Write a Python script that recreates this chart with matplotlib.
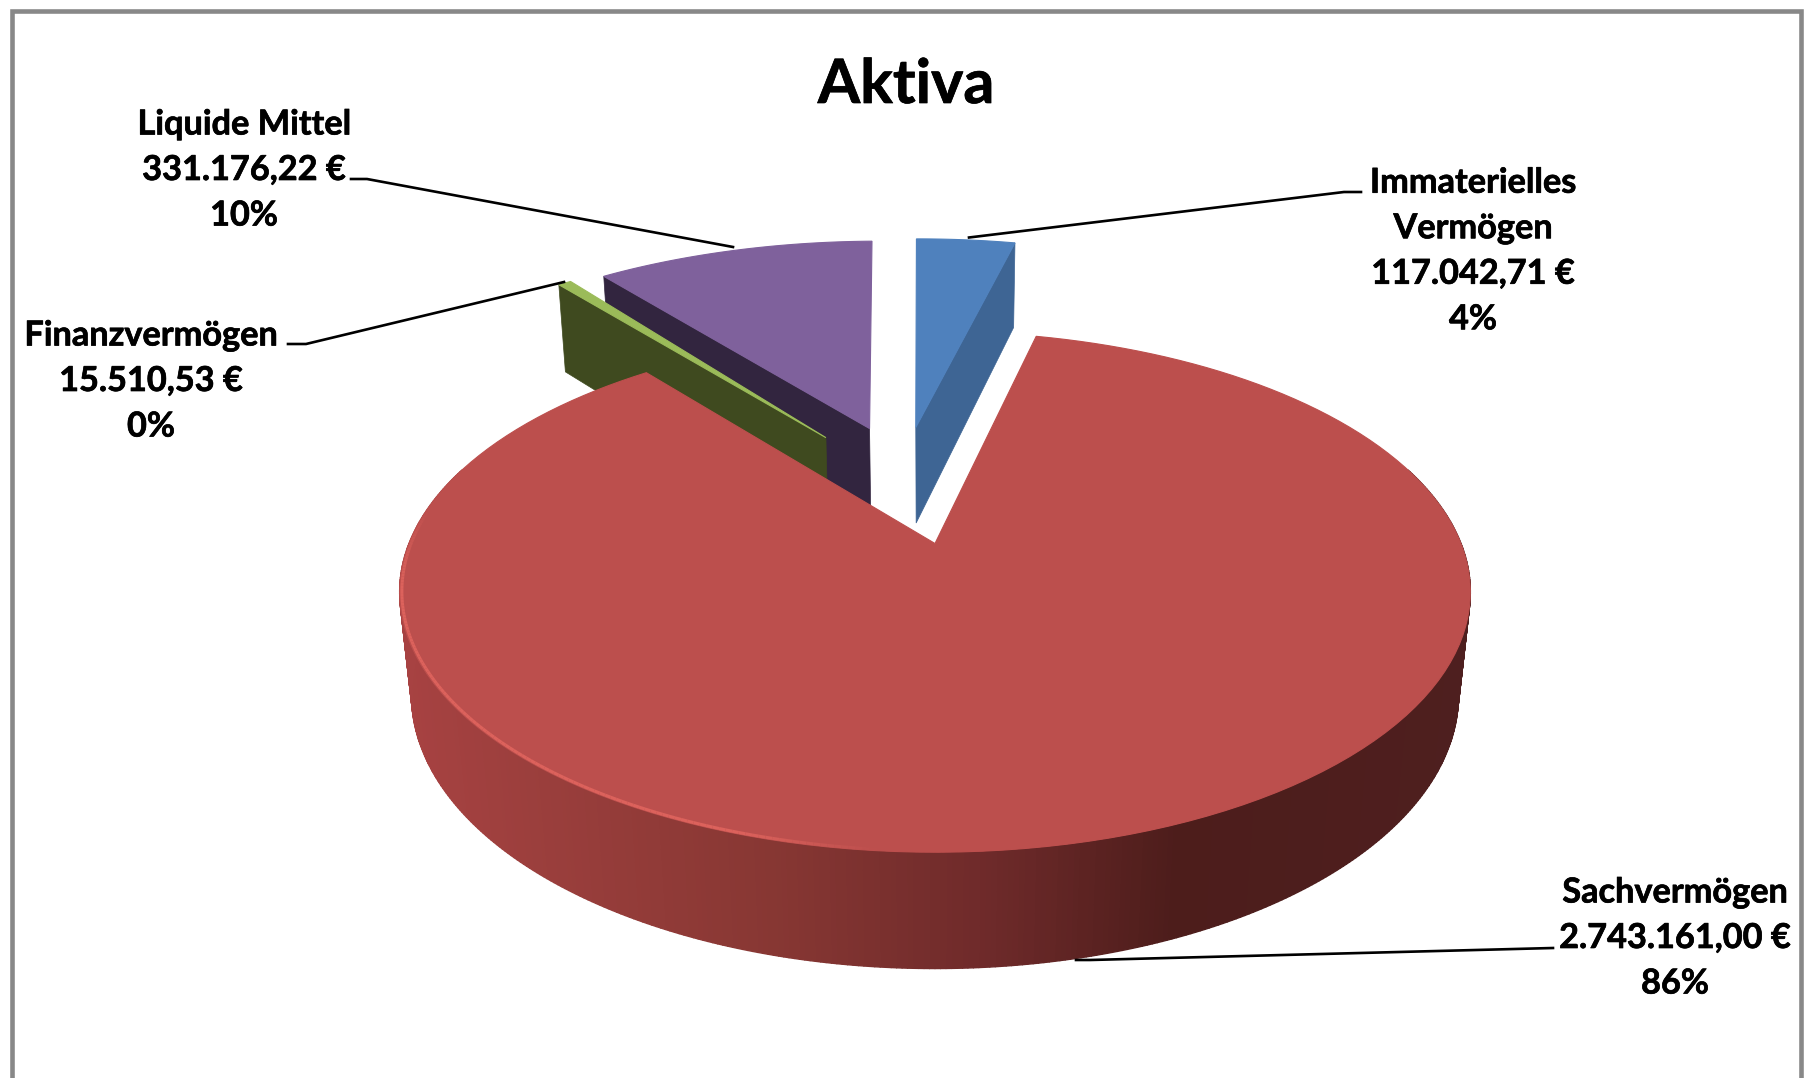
import numpy as np
import matplotlib
matplotlib.use("Agg")
import matplotlib.pyplot as plt
import matplotlib.patheffects as pe
from matplotlib.patches import Polygon
from matplotlib.collections import LineCollection, PolyCollection
from matplotlib.colors import LinearSegmentedColormap, to_rgb

# ---- data (clockwise from 12 o'clock) ----
names = ["Immaterielles\nVermögen", "Sachvermögen", "Finanzvermögen", "Liquide Mittel"]
values = [117042.71, 2743161.00, 15510.53, 331176.22]
value_labels = ["117.042,71 €", "2.743.161,00 €", "15.510,53 €", "331.176,22 €"]
percent_labels = ["4%", "86%", "0%", "10%"]
title = "Aktiva"

# ---- style ----
top_colors = ["#4F81BD", "#BC4F4D", "#9BBB59", "#7F619C"]
cut_colors = ["#3E6594", None, "#3F4A1F", "#32253F"]
explode_x = [-0.040, 0.0, -0.225, -0.136]
explode_y = [0.505, 0.0, 0.457, 0.50]
radii = [1.06, 1.0, 1.05, 1.05]
tilt = [-0.3, 0.0, 0.0, -1.0]   # small per-slice rotation, degrees
cut_side = [1, None, 0, 0]      # which radial edge shows its cut face
draw_order = [3, 2, 0, 1]
label_pos = [(1473, 251), (1675, 938), (151, 381), (244, 170)]

leaders = [
    ([969, 1344, 1361], [237.5, 192, 192]),
    ([1076, 1090, 1553], [960, 960, 948]),
    ([288, 306, 564], [344, 344, 282]),
    ([351, 367, 733], [179, 179, 247]),
]

# ---- perspective camera of the tilted pie, in pixels ----
U0, V0, A, B, KY, KZ, N = 935.0, 543.5, 526.0, 150.2, 0.186, 0.022, 116.0


def project(x, y, z=0.0):
    w = 1 + KY * np.asarray(y, float) + KZ * z
    return U0 + A * np.asarray(x, float) / w, (V0 - B * np.asarray(y, float) + N * z) / w


fig = plt.figure(figsize=(18.05, 10.78), dpi=100, facecolor="white")
ax = fig.add_axes([0, 0, 1, 1])
ax.set_xlim(0, 1805)
ax.set_ylim(1078, 0)
ax.axis("off")

plt.rcParams["font.family"] = ["Lato", "DejaVu Sans"]

# outer frame (open at the bottom)
ax.plot([11.5, 11.5, 1801, 1801], [1078, 11, 11, 1078], color="#888888", lw=3.3,
        solid_joinstyle="miter", zorder=1)

angles = np.cumsum([0] + list(values)) / np.sum(values) * 360.0
wall_cmap = LinearSegmentedColormap.from_list(
    "wall",
    [(0.0, "#A84242"), (0.12, "#9C3F3D"), (0.35, "#873733"), (0.55, "#6E2A2A"),
     (0.72, "#4D1D1B"), (1.0, "#4E1F1F")])


def outline(i, n=160):
    t = np.radians(np.linspace(angles[i], angles[i + 1], n) + tilt[i])
    x = explode_x[i] + radii[i] * np.sin(t)
    y = explode_y[i] + radii[i] * np.cos(t)
    return x, y


for order, i in enumerate(draw_order):
    z0 = 3 + 4 * order
    x, y = outline(i)
    cx, cy = explode_x[i], explode_y[i]
    if cut_side[i] is not None:
        e = -1 if cut_side[i] == 1 else 0
        u1, v1 = project(cx, cy)
        u2, v2 = project(x[e], y[e])
        u3, v3 = project(x[e], y[e], 1)
        u4, v4 = project(cx, cy, 1)
        ax.add_patch(Polygon([(u1, v1), (u2, v2), (u3, v3), (u4, v4)], closed=True,
                             fc=cut_colors[i], ec=cut_colors[i], lw=0.5, zorder=z0))
    if cut_side[i] is None:
        # outer wall with its horizontal shading
        t = np.radians(np.linspace(72, 288, 433))
        wx, wy = cx + radii[i] * np.sin(t), cy + radii[i] * np.cos(t)
        ut, vt = project(wx, wy)
        ub, vb = project(wx, wy, 1)
        quads, cols = [], []
        for k in range(len(t) - 1):
            quads.append([(ut[k], vt[k]), (ut[k + 1], vt[k + 1]),
                          (ub[k + 1], vb[k + 1]), (ub[k], vb[k])])
            cols.append(wall_cmap(np.clip((0.5 * (ub[k] + ub[k + 1]) - 400) / 1070, 0, 1)))
        ax.add_collection(PolyCollection(quads, facecolors=cols, edgecolors=cols,
                                         linewidths=1.0, zorder=z0))
    u, v = project(x, y)
    u0, v0 = project(cx, cy)
    ax.add_patch(Polygon(np.column_stack([np.r_[u0, u], np.r_[v0, v]]), closed=True,
                         fc=top_colors[i], ec=top_colors[i], lw=0.8, zorder=z0 + 1))
    if cut_side[i] is None:
        # bevel highlight along the front rim
        deg = np.linspace(125, 278, 240)
        t = np.radians(deg)
        rim = 0.996 * radii[i]
        rx, ry = cx + rim * np.sin(t), cy + rim * np.cos(t)
        ru, rv = project(rx, ry)
        pts = np.column_stack([ru, rv])
        segs = np.stack([pts[:-1], pts[1:]], axis=1)
        base = np.array(to_rgb("#DC625C"))
        fade = (np.clip((880 - ru[:-1]) / 140, 0, 1) * np.clip((278 - deg[:-1]) / 18, 0, 1))[:, None]
        rgb = np.array(to_rgb(top_colors[i])) * (1 - fade) + base * fade
        ax.add_collection(LineCollection(segs, colors=rgb, linewidths=2.2, zorder=z0 + 2,
                                         capstyle="butt"))

# leader lines
for lx, ly in leaders:
    ax.plot(lx, ly, color="black", lw=1.9, solid_joinstyle="miter", zorder=40)

# labels
weight = [pe.withStroke(linewidth=0.5, foreground="black")]
for name, val, pct, (px, py) in zip(names, value_labels, percent_labels, label_pos):
    ax.text(px, py, f"{name}\n{val}\n{pct}", ha="center", va="center", ma="center",
            fontsize=24.7, fontweight="bold", color="black", linespacing=1.52, zorder=41,
            path_effects=weight)

ax.text(906, 85, title, ha="center", va="center", fontsize=44, fontweight="bold",
        color="black", zorder=41, path_effects=weight)

fig.savefig("out.png", dpi=100, facecolor="white")
